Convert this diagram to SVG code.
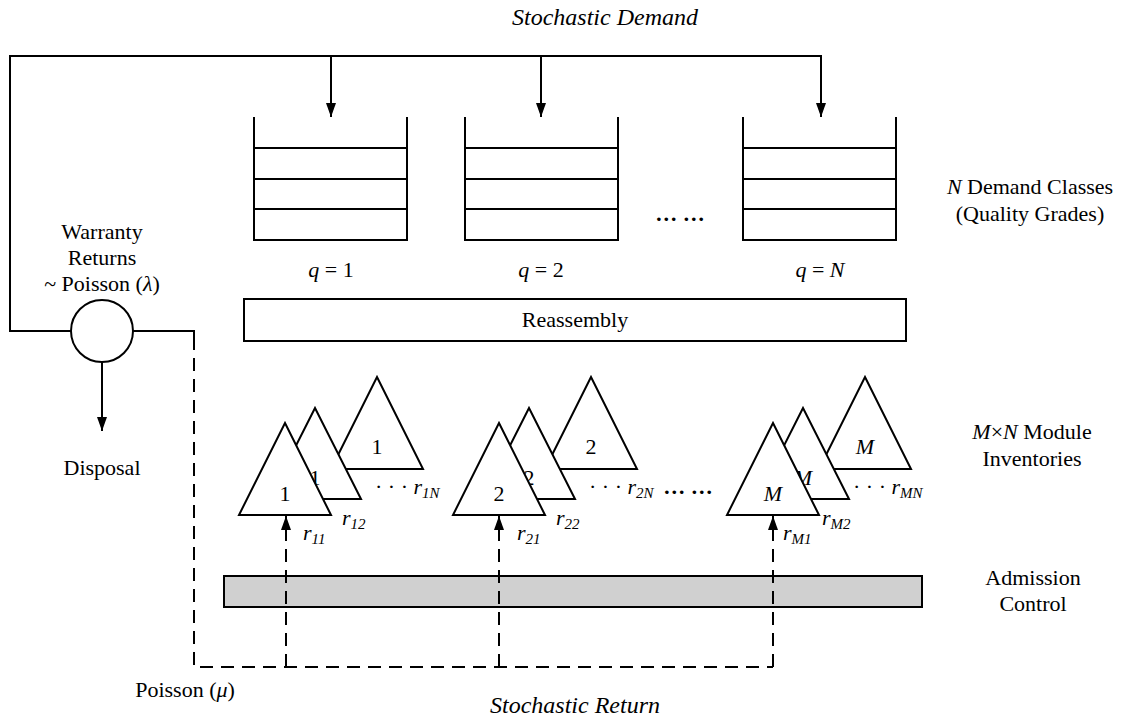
<svg xmlns="http://www.w3.org/2000/svg" width="1135" height="723" viewBox="0 0 1135 723" font-family="'Liberation Serif', 'Times New Roman', serif">
  <style>
    text { font-family: "Liberation Serif", "Times New Roman", serif; fill: #000; }
    .lbl { font-size: 22px; }
    .ttl { font-size: 24px; font-style: italic; }
    .it { font-style: italic; }
    .sub { font-size: 15px; font-style: italic; }
    .ln { stroke: #000; stroke-width: 2; fill: none; }
    .dash { stroke: #000; stroke-width: 2; fill: none; stroke-dasharray: 13 8; }
    .tri { stroke: #000; stroke-width: 2; fill: #fff; stroke-linejoin: miter; }
    .dots { font-size: 22px; font-weight: bold; }
  </style>
  <defs>
    <marker id="ah" viewBox="0 0 14 10" refX="14" refY="5" markerWidth="14" markerHeight="10" markerUnits="userSpaceOnUse" orient="auto">
      <path d="M0,0 L14,5 L0,10 Z" fill="#000"/>
    </marker>
  </defs>

  <rect width="1135" height="723" fill="#fff"/>

  <!-- titles -->
  <text class="ttl" x="605" y="25" text-anchor="middle">Stochastic Demand</text>
  <text class="ttl" x="575" y="713" text-anchor="middle">Stochastic Return</text>

  <!-- admission control bar (under the dashed return lines) -->
  <g id="admission">
    <rect x="224" y="576" width="698" height="31" fill="#d0d0d0" stroke="#000" stroke-width="2"/>
  </g>

  <g id="connectors">
    <!-- demand loop from warranty returns to the queues -->
    <polyline class="ln" points="71,331 10,331 10,56 822,56"/>
    <line class="ln" x1="331" y1="56" x2="331" y2="117" marker-end="url(#ah)"/>
    <line class="ln" x1="541" y1="56" x2="541" y2="117" marker-end="url(#ah)"/>
    <line class="ln" x1="821" y1="56" x2="821" y2="117" marker-end="url(#ah)"/>
    <!-- disposal -->
    <line class="ln" x1="102" y1="362" x2="102" y2="431" marker-end="url(#ah)"/>
    <!-- return path -->
    <polyline class="ln" points="133,331 194,331 194,337"/>
    <polyline class="dash" points="194,337 194,667 773,667"/>
    <line class="dash" x1="286" y1="667" x2="286" y2="528"/>
    <line class="dash" x1="499" y1="667" x2="499" y2="528"/>
    <line class="dash" x1="773" y1="667" x2="773" y2="528"/>
    <line class="ln" x1="286" y1="530" x2="286" y2="516" marker-end="url(#ah)"/>
    <line class="ln" x1="499" y1="530" x2="499" y2="516" marker-end="url(#ah)"/>
    <line class="ln" x1="773" y1="530" x2="773" y2="516" marker-end="url(#ah)"/>
  </g>

  <!-- warranty returns node -->
  <g id="warranty">
    <circle cx="102" cy="331" r="31" fill="#fff" stroke="#000" stroke-width="2"/>
    <text class="lbl" x="102" y="239" text-anchor="middle">Warranty</text>
    <text class="lbl" x="102" y="265" text-anchor="middle">Returns</text>
    <text class="lbl" x="102" y="291" text-anchor="middle">~ Poisson (<tspan class="it">λ</tspan>)</text>
  </g>

  <g id="disposal">
    <text class="lbl" x="102" y="475" text-anchor="middle">Disposal</text>
  </g>

  <!-- demand class queues -->
  <g id="queue1">
    <path class="ln" d="M254,117 V240 H407 V117 M254,148 H407 M254,179 H407 M254,209 H407"/>
    <text class="lbl" x="331" y="277" text-anchor="middle"><tspan class="it">q</tspan> = 1</text>
  </g>
  <g id="queue2">
    <path class="ln" d="M465,117 V240 H618 V117 M465,148 H618 M465,179 H618 M465,209 H618"/>
    <text class="lbl" x="541" y="277" text-anchor="middle"><tspan class="it">q</tspan> = 2</text>
  </g>
  <g id="queueN">
    <path class="ln" d="M743,117 V240 H896 V117 M743,148 H896 M743,179 H896 M743,209 H896"/>
    <text class="lbl" x="820" y="277" text-anchor="middle"><tspan class="it">q</tspan> = <tspan class="it">N</tspan></text>
  </g>
  <text class="dots" x="680" y="221" text-anchor="middle">… …</text>

  <g id="demand-classes">
    <text class="lbl" x="1030" y="194" text-anchor="middle"><tspan class="it">N</tspan> Demand Classes</text>
    <text class="lbl" x="1030" y="221" text-anchor="middle">(Quality Grades)</text>
  </g>

  <!-- reassembly -->
  <g id="reassembly">
    <rect x="244" y="299" width="662" height="42" fill="#fff" stroke="#000" stroke-width="2"/>
    <text class="lbl" x="575" y="327" text-anchor="middle">Reassembly</text>
  </g>

  <!-- module inventories: back, middle and front stock of each module -->
  <g id="module1">
    <polygon class="tri" points="377,377 423,469 331,469"/>
    <text class="lbl" x="377" y="454" text-anchor="middle">1</text>
    <polygon class="tri" points="315,408 361,499 269,499"/>
    <text class="lbl" x="315" y="485" text-anchor="middle">1</text>
    <polygon class="tri" points="285,423 331,515 239,515"/>
    <text class="lbl" x="285" y="501" text-anchor="middle">1</text>
    <text class="lbl" x="375" y="494">· · · <tspan class="it">r</tspan><tspan class="sub" dy="4">1N</tspan></text>
    <text class="lbl it" x="342" y="525">r<tspan class="sub" dy="4">12</tspan></text>
    <text class="lbl it" x="303" y="540">r<tspan class="sub" dy="4">11</tspan></text>
  </g>
  <g id="module2">
    <polygon class="tri" points="591,377 637,469 545,469"/>
    <text class="lbl" x="591" y="454" text-anchor="middle">2</text>
    <polygon class="tri" points="529,408 575,499 483,499"/>
    <text class="lbl" x="529" y="485" text-anchor="middle">2</text>
    <polygon class="tri" points="499,423 545,515 453,515"/>
    <text class="lbl" x="499" y="501" text-anchor="middle">2</text>
    <text class="lbl" x="589" y="494">· · · <tspan class="it">r</tspan><tspan class="sub" dy="4">2N</tspan></text>
    <text class="lbl it" x="556" y="525">r<tspan class="sub" dy="4">22</tspan></text>
    <text class="lbl it" x="517" y="540">r<tspan class="sub" dy="4">21</tspan></text>
  </g>
  <g id="moduleM">
    <polygon class="tri" points="865,377 911,469 819,469"/>
    <text class="lbl it" x="865" y="454" text-anchor="middle">M</text>
    <polygon class="tri" points="803,408 849,499 757,499"/>
    <text class="lbl it" x="803" y="485" text-anchor="middle">M</text>
    <polygon class="tri" points="773,423 819,515 727,515"/>
    <text class="lbl it" x="773" y="501" text-anchor="middle">M</text>
    <text class="lbl" x="853" y="494">· · · <tspan class="it">r</tspan><tspan class="sub" dy="4">MN</tspan></text>
    <text class="lbl it" x="822" y="525">r<tspan class="sub" dy="4">M2</tspan></text>
    <text class="lbl it" x="783" y="540">r<tspan class="sub" dy="4">M1</tspan></text>
  </g>
  <text class="dots" x="688" y="494" text-anchor="middle">… …</text>

  <g id="inventories-label">
    <text class="lbl" x="1032" y="439" text-anchor="middle"><tspan class="it">M</tspan>×<tspan class="it">N</tspan> Module</text>
    <text class="lbl" x="1032" y="466" text-anchor="middle">Inventories</text>
  </g>

  <g id="admission-label">
    <text class="lbl" x="1033" y="585" text-anchor="middle">Admission</text>
    <text class="lbl" x="1033" y="611" text-anchor="middle">Control</text>
  </g>

  <g id="poisson-mu">
    <text class="lbl" x="185" y="697" text-anchor="middle">Poisson (<tspan class="it">μ</tspan>)</text>
  </g>
</svg>
